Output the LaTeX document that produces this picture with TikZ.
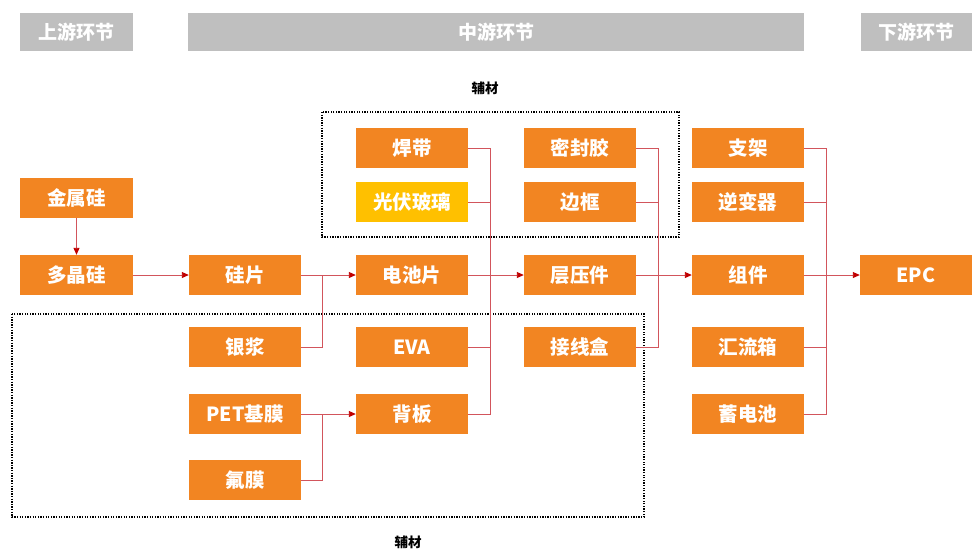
\documentclass[tikz,border=0pt]{standalone}
\usepackage{fontspec}
\setmainfont{Noto Sans CJK SC}
\usetikzlibrary{arrows.meta}
\definecolor{boxorange}{HTML}{F28522}
\definecolor{boxyellow}{HTML}{FFC000}
\definecolor{hdrgray}{HTML}{BFBFBF}
\definecolor{linered}{HTML}{D2555C}
\definecolor{tipred}{HTML}{C00000}
\tikzset{
  box/.style={fill=boxorange, minimum width=112pt, minimum height=40pt, inner sep=0pt,
    text=white, font=\bfseries\fontsize{19.5}{21}\selectfont},
  ybox/.style={box, fill=boxyellow},
  hdr/.style={fill=hdrgray, minimum height=38pt, inner sep=0pt, text=white,
    font=\bfseries\fontsize{19}{21}\selectfont},
  dotbox/.style={draw=black, line width=1.3pt, dash pattern=on 1.3pt off 1.3pt},
  lbl/.style={font=\bfseries\fontsize{13.5}{15}\selectfont, text=black, inner sep=0pt},
  ln/.style={draw=linered, line width=0.9pt},
  arr/.style={ln, -{Triangle[length=7pt,width=6pt,color=tipred]}},
}
\begin{document}
\begin{tikzpicture}[x=1pt,y=-1pt]
\useasboundingbox (0,0) rectangle (974,550);
% headers
\node[hdr, minimum width=113pt] (h1) at (76.5,32) {上游环节};
\node[hdr, minimum width=616pt] (h2) at (496,32) {中游环节};
\node[hdr, minimum width=111pt] (h3) at (916.5,32) {下游环节};
% dotted boxes
\draw[dotbox] (322,112) rectangle (679,237);
\draw[dotbox] (12,314) rectangle (644,517);
\node[lbl] (l1) at (485,88) {辅材};
\node[lbl] (l2) at (408,542) {辅材};
% column 1
\node[box, minimum width=113pt] (jsg) at (76.5,198) {金属硅};
\node[box, minimum width=113pt] (djg) at (76.5,275) {多晶硅};
% column 2
\node[box] (gp) at (245,275) {硅片};
\node[box] (yj) at (245,347) {银浆};
\node[box] (pet) at (245,414) {PET基膜};
\node[box] (fm) at (245,480) {氟膜};
% column 3
\node[box] (hd) at (412,148) {焊带};
\node[ybox] (gfbl) at (412,202) {光伏玻璃};
\node[box] (dcp) at (412,275) {电池片};
\node[box] (eva) at (412,347) {EVA};
\node[box] (bb) at (412,414) {背板};
% column 4
\node[box] (mfj) at (580,148) {密封胶};
\node[box] (bk) at (580,202) {边框};
\node[box] (cyj) at (580,275) {层压件};
\node[box] (jxh) at (580,347) {接线盒};
% column 5
\node[box] (zjia) at (748,148) {支架};
\node[box] (nbq) at (748,202) {逆变器};
\node[box] (zj) at (748,275) {组件};
\node[box] (hlx) at (748,347) {汇流箱};
\node[box] (xdc) at (748,414) {蓄电池};
% column 6
\node[box] (epc) at (916,275) {EPC};
% junctions
\coordinate (j1) at (322,275);
\coordinate (j2) at (490,275);
\coordinate (j3) at (658,275);
\coordinate (j4) at (826,275);
\coordinate (j5) at (322,414);
% connectors
\draw[arr] (jsg) -- (djg);
\draw[arr] (djg) -- (gp);
\draw[arr] (gp) -- (dcp);
\draw[ln] (yj.east) -| (j1);
\draw[arr] (dcp) -- (cyj);
\draw[ln] (hd.east) -| (j2);
\draw[ln] (gfbl.east) -| (j2);
\draw[ln] (eva.east) -| (j2);
\draw[ln] (bb.east) -| (j2);
\draw[arr] (cyj) -- (zj);
\draw[ln] (mfj.east) -| (j3);
\draw[ln] (bk.east) -| (j3);
\draw[ln] (jxh.east) -| (j3);
\draw[arr] (zj) -- (epc);
\draw[ln] (zjia.east) -| (j4);
\draw[ln] (nbq.east) -| (j4);
\draw[ln] (hlx.east) -| (j4);
\draw[ln] (xdc.east) -| (j4);
\draw[arr] (pet) -- (bb);
\draw[ln] (fm.east) -| (j5);
\end{tikzpicture}
\end{document}
